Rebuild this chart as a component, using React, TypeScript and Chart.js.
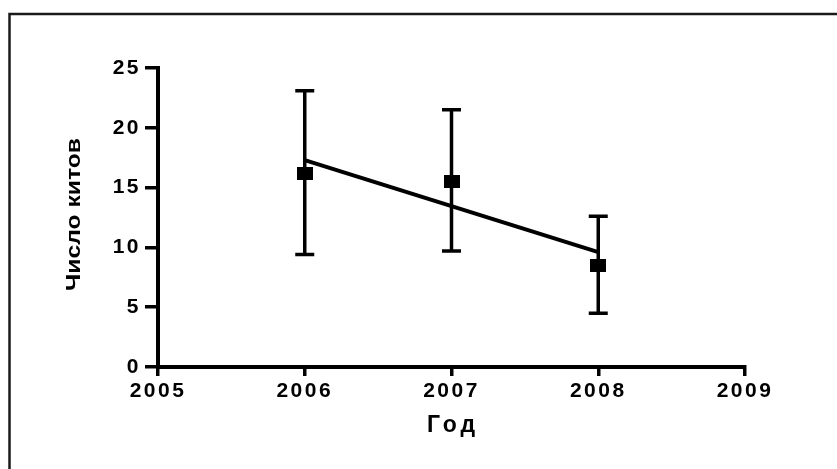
import React, { useEffect, useRef } from 'react';
import { Chart, registerables } from 'chart.js';

Chart.register(...registerables);

const years = [2006, 2007, 2008];
const means = [16.2, 15.55, 8.47];
const upper = [23.1, 21.5, 12.6];
const lower = [9.4, 9.7, 4.5];
const fitYears = [2006, 2008];
const fitValues = [17.3, 9.6];
const xTicks = [2005, 2006, 2007, 2008, 2009];
const yTicks = [0, 5, 10, 15, 20, 25];
const xTitle = 'Год';
const yTitle = 'Число китов';

const FONT = '"Liberation Sans", Arial, sans-serif';

function makeMarker(): HTMLCanvasElement {
  const c = document.createElement('canvas');
  c.width = 16;
  c.height = 13;
  const g = c.getContext('2d')!;
  g.fillStyle = '#000';
  g.fillRect(0, 0, 16, 13);
  return c;
}

const spacingPlugin = {
  id: 'spacing',
  beforeLayout(chart: any) {
    chart.ctx.letterSpacing = '2.5px';
  },
  beforeDraw(chart: any) {
    chart.ctx.letterSpacing = '2.5px';
  },
};

const errorBarsPlugin = {
  id: 'errorBars',
  beforeDatasetsDraw(chart: any) {
    const { ctx, scales } = chart;
    const x = scales.x;
    const y = scales.y;
    ctx.save();
    ctx.strokeStyle = '#000';
    ctx.lineWidth = 3.5;
    ctx.lineCap = 'butt';
    years.forEach((yr, i) => {
      const px = x.getPixelForValue(yr);
      const top = y.getPixelForValue(upper[i]);
      const bot = y.getPixelForValue(lower[i]);
      ctx.beginPath();
      ctx.moveTo(px, top);
      ctx.lineTo(px, bot);
      ctx.moveTo(px - 9.5, top);
      ctx.lineTo(px + 9.5, top);
      ctx.moveTo(px - 9.5, bot);
      ctx.lineTo(px + 9.5, bot);
      ctx.stroke();
    });
    ctx.restore();
  },
};

const decorPlugin = {
  id: 'decor',
  afterDraw(chart: any) {
    const ctx = chart.ctx;
    ctx.save();
    // frame
    ctx.strokeStyle = '#1a1a1a';
    ctx.lineWidth = 2.5;
    ctx.strokeRect(9.5, 14, 1000, 1000);
    // x title
    ctx.fillStyle = '#000';
    ctx.letterSpacing = '4px';
    ctx.font = `bold 23px ${FONT}`;
    ctx.textAlign = 'center';
    ctx.textBaseline = 'alphabetic';
    ctx.fillText(xTitle, 453, 432);
    // y title
    ctx.letterSpacing = '0px';
    ctx.font = `bold 21px ${FONT}`;
    const w = ctx.measureText(yTitle).width;
    ctx.translate(80, 214.5);
    ctx.rotate(-Math.PI / 2);
    ctx.scale(153 / w, 1);
    ctx.fillText(yTitle, 0, 0);
    ctx.restore();
  },
};

export default function App() {
  const ref = useRef<HTMLCanvasElement>(null);
  useEffect(() => {
    if (!ref.current) return;
    const chart = new Chart(ref.current, {
      type: 'scatter',
      data: {
        datasets: [
          {
            label: 'fit',
            type: 'line',
            data: fitYears.map((x, i) => ({ x, y: fitValues[i] })),
            borderColor: '#000',
            borderWidth: 4,
            pointRadius: 0,
            fill: false,
            order: 2,
          } as any,
          {
            label: 'mean',
            data: years.map((x, i) => ({ x, y: means[i] })),
            pointStyle: makeMarker(),
            backgroundColor: '#000',
            borderColor: '#000',
            showLine: false,
            order: 1,
          },
        ],
      },
      options: {
        animation: false,
        responsive: false,
        layout: { padding: { left: 0, top: 68, right: 92, bottom: 0 } },
        plugins: { legend: { display: false }, tooltip: { enabled: false } },
        scales: {
          x: {
            type: 'linear',
            min: 2005,
            max: 2009,
            afterBuildTicks: (s: any) => {
              s.ticks = xTicks.map((v) => ({ value: v }));
            },
            afterFit: (s: any) => {
              s.height = 102;
            },
            ticks: {
              callback: (v: any) => String(v),
              color: '#000',
              font: { family: FONT, size: 21, weight: 'bold' },
              padding: 3,
              maxRotation: 0,
            },
            grid: {
              drawOnChartArea: false,
              drawTicks: true,
              tickLength: 9,
              lineWidth: 3.5,
              color: '#000',
            },
            border: { display: true, width: 4, color: '#000' },
          },
          y: {
            type: 'linear',
            min: 0,
            max: 25,
            afterBuildTicks: (s: any) => {
              s.ticks = yTicks.map((v) => ({ value: v }));
            },
            afterFit: (s: any) => {
              s.width = 158;
            },
            ticks: {
              callback: (v: any) => String(v),
              color: '#000',
              font: { family: FONT, size: 21, weight: 'bold' },
              padding: 4,
            },
            grid: {
              drawOnChartArea: false,
              drawTicks: true,
              tickLength: 13,
              lineWidth: 3.5,
              color: '#000',
            },
            border: { display: true, width: 4, color: '#000' },
          },
        },
      },
      plugins: [spacingPlugin, errorBarsPlugin, decorPlugin],
    });
    return () => chart.destroy();
  }, []);
  return (
    <div style={{ position: 'absolute', left: 0, top: 0, width: 837, height: 469 }}>
      <canvas ref={ref} width={837} height={469} />
    </div>
  );
}
